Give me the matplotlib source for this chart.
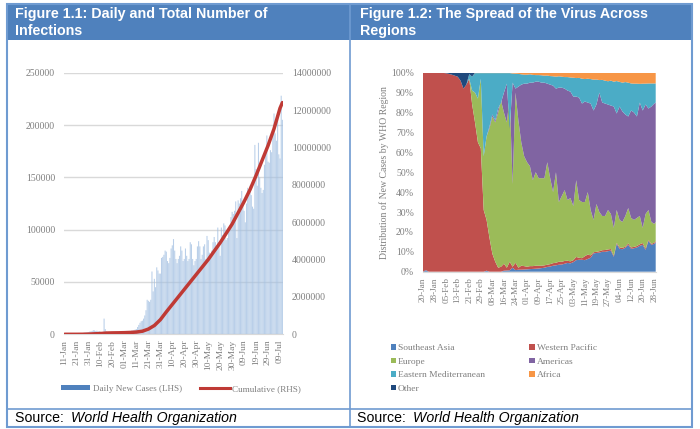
import matplotlib
matplotlib.use("Agg")
import matplotlib.pyplot as plt
import numpy as np
from matplotlib.patches import Rectangle, Patch
from matplotlib.lines import Line2D

# ---------- Figure 1.1 data ----------
daily_jan = [0,0,0,0,0,0,0,0,0,0, 100,200,300,500,700,800,1400,1700,1800,2000,2100]
daily_feb = [2600,2800,3200,3900,3700,3200,3400,2700,3000,2500,2000,1800,15000,5000,2600,2000,1900,1700,500,
             900,900,600,800,600,900,800,1000,1200,1800]
daily_mar = [1800,2000,2200,2000,2400,2800,3500,3600,4000,4500,5000,7000,9000,11000,12500,13000,15000,18000,23000,
             33000,32000,31000,33000,60000,41000,53000,45000,64000,61000,58000,58000]
daily_apr = [73000,74000,76000,80000,79000,70000,68000,73000,82000,85000,91000,80000,72000,68000,72000,75000,84000,
             80000,70000,72000,82000,75000,70000,72000,88000,86000,72000,66000,70000,72000]
daily_may = [84000,89000,84000,72000,76000,84000,86000,72000,94000,90000,78000,75000,80000,88000,93000,88000,84000,
             102000,88000,75000,102000,95000,106000,104000,90000,92000,98000,104000,112000,117000,115000]
daily_jun = [118000,127000,92000,128000,125000,130000,137000,128000,118000,107000,125000,140000,135000,142000,133000,
             122000,120000,181000,158000,142000,183000,150000,140000,135000,138000,162000,178000,190000,165000,164000]
daily_jul = [176000,174000,195000,211000,192000,185000,212000,172000,168000,228000,205000]
daily_new_cases = daily_jan + daily_feb + daily_mar + daily_apr + daily_may + daily_jun + daily_jul

cumulative_day = [0,5,10,15,20,25,30,35,40,45,50,55,60,65,70,75,80,85,90,95,100,105,110,115,120,125,130,135,140,
                  145,150,155,160,165,170,175,180,182]
cumulative_val = [0,100,300,2500,10000,25000,42000,67000,76000,80000,88000,100000,120000,165000,280000,470000,
                  780000,1200000,1600000,2000000,2400000,2800000,3200000,3600000,4000000,4450000,4900000,5400000,
                  5900000,6500000,7100000,7750000,8500000,9300000,10100000,11000000,12100000,12400000]
left_xlabels = ['11-Jan','21-Jan','31-Jan','10-Feb','20-Feb','01-Mar','11-Mar','21-Mar','31-Mar','10-Apr','20-Apr',
                '30-Apr','10-May','20-May','30-May','09-Jun','19-Jun','29-Jun','09-Jul']

# ---------- Figure 1.2 data: upper edge of each stacked band, every 2 days (last step 1 day) ----------
share_day = list(range(0, 161, 2)) + [161]
early_top = [99.9,99.9,99.9,99.9,99.9,99.9,99.9,99.9,99.7,99.4,99,98.5,98,96,92,94]
top_se_asia = [0,0.8,0,0,0,0,0,0,0,0, 0,0,0,0,0,0,0,0,0,0, 0,0,0.5,0,0,0,0,0,0.5,0.6,
               0.7,2,0.8,1,1,1.1,1.2,1.3,1.4,1.5, 1.6,1.8,2,2.4,2.6,3,3.2,3.5,3.6,4,
               4.4,4.2,4.8,5.8,6,6,5.8,6.4,7,9.2, 9.4,9.6,10,10,10.3,10.6,7.5,14,11.5,11.3,
               12,13.5,11.5,11.8,12.2,13,13.5,11,15.5,13.5, 14,14.8]
top_w_pacific = early_top + [97,84,75,65, 62,31,26,17,9,5,2,2.5,4,2,
                 5,2.5,4.5,2,3,2.8,2.5,2.8,2.8,3, 3,3,3.2,3.5,3.8,4.3,4.5,5,5,5.4,
                 5.5,5.2,5.8,7.4,7,6.8,7.8,8.6,8.2,9.8, 10,10.3,10.8,10.9,11.2,11.4,8,14.5,12.2,12,
                 12.6,14.2,12.2,12.5,12.9,13.8,14.4,11.6,16,14, 14.6,15.4]
top_europe = early_top + [97,91,90,87, 97,58,68,72,78,75,80,86,80,75,
                 88,44,90,76,65,58,55,53,46,50, 47,47,47,55,47,40,50,35,38,41,
                 36,37,33,46,36,35,35,40,31,26, 34,30,28,28,31,29,22,31,26,25,
                 28,32,27,26,27,28,22,29,31,25, 24,25]
top_americas = early_top + [97,91,90,87, 97,58,68,73,79,76,82,85,90,94.5,
                 72,95,92,93,94,94.5,94.5,95,95,95.5, 95.5,95,95,94.5,94,93.5,92,92.5,92.5,92,
                 91,90.5,88,88,87.5,84.5,85.5,85,84.5,81, 84,90,85,84.5,84,83.5,83,79.5,83,80.5,
                 79,78,81,80,78,85,81,84,82,83, 84.5,85]
top_e_med = early_top + [99.3,98,99.8,99.8, 99.8,99.8,99.8,99.8,99.8,99.8,99.8,99.8,99.8,99.8,
                 99.8,99.6,99.5,99.4,99.2,99,99,99.2,98.9,98.8, 98.8,98.7,98.5,98.6,98.3,98.2,98,98.2,98,97.8,
                 97.8,97.6,97.5,97.3,97.4,97,96.8,97,96.8,96.5, 96.6,96.3,96.4,96,95.7,96,95.5,95.8,95.4,95,
                 95.3,95,94.6,94.5,94.5,94.4,94.5,94.5,94.6,94.6, 94.6,94.6]
top_africa = early_top + [99.3,98,100,100] + [100] * 62
top_other = [100] * 82
right_xlabels = ['20-Jan','28-Jan','05-Feb','13-Feb','21-Feb','29-Feb','08-Mar','16-Mar','24-Mar','01-Apr','09-Apr',
                 '17-Apr','25-Apr','03-May','11-May','19-May','27-May','04-Jun','12-Jun','20-Jun','28-Jun']
region_names = ['Southeast Asia','Western Pacific','Europe','Americas','Eastern Mediterranean','Africa','Other']

W, H = 700, 429
SERIF = 'Liberation Serif'
SANS = 'Liberation Sans'
GREY = '#7f7f7f'
BORDER = '#6f9bd1'
fig = plt.figure(figsize=(W/100, H/100), dpi=100, facecolor='white')

def px_axes(x0, y0, x1, y1, **kw):
    return fig.add_axes([x0/W, 1-y1/H, (x1-x0)/W, (y1-y0)/H], **kw)

# ---------- frame ----------
bg = fig.add_axes([0, 0, 1, 1])
bg.set_xlim(0, W); bg.set_ylim(H, 0); bg.axis('off')
bg.add_patch(Rectangle((7, 4), 685, 36, fc='#4f81bd', ec='none'))
bg.add_patch(Rectangle((7, 4), 685, 423, fc='none', ec=BORDER, lw=1.5))
bg.plot([350, 350], [4, 427], color=BORDER, lw=1.2)
bg.plot([7, 692], [409, 409], color=BORDER, lw=1.2)
for x, lines in [(15, ['Figure 1.1: Daily and Total Number of', 'Infections']),
                 (360, ['Figure 1.2: The Spread of the Virus Across', 'Regions'])]:
    for y, s in zip([14, 31], lines):
        bg.text(x, y, s, color='white', family=SANS, weight='bold', fontsize=10.3, va='center', ha='left')
for x in (15, 357):
    t = bg.text(x, 418, 'Source: ', family=SANS, fontsize=10.2, va='center', ha='left', color='black')
    bb = t.get_window_extent(fig.canvas.get_renderer())
    bg.text(x + bb.width + 3, 418, 'World Health Organization', family=SANS, style='italic', fontsize=10.2,
            va='center', ha='left', color='black')

# ---------- Figure 1.1 ----------
ax = px_axes(64, 72.7, 283, 334.3)
ax.patch.set_alpha(0)
x_days = np.arange(len(daily_new_cases))
ax.yaxis.grid(True, color='#d9d9d9', lw=1)
ax.set_axisbelow(True)
bars = ax.bar(x_days, daily_new_cases, width=0.9, color='#a3c0e2', alpha=0.75, lw=0)
for b in bars:
    b.set_snap(False)
ax.set_xlim(-0.5, len(daily_new_cases) - 0.5)
ax.set_ylim(0, 250000)
ax.set_yticks(range(0, 250001, 50000))
ax.set_xticks(np.arange(0, 181, 10))
ax.set_xticklabels(left_xlabels, rotation=90)
ax.tick_params(length=0, labelsize=6.8, labelcolor=GREY, pad=4)
ax.tick_params(axis='y', pad=6.5, labelsize=7)
for s in ax.spines.values():
    s.set_visible(False)
ax.spines['bottom'].set_visible(True); ax.spines['bottom'].set_color('#d9d9d9')
for lab in ax.get_xticklabels() + ax.get_yticklabels():
    lab.set_family(SERIF)

ax2 = ax.twinx()
ax2.plot(cumulative_day, cumulative_val, color='#bf3a35', lw=2.5, solid_capstyle='round', zorder=5)
ax2.set_ylim(0, 14000000)
ax2.set_yticks(range(0, 14000001, 2000000))
ax2.ticklabel_format(style='plain', axis='y', useOffset=False)
ax2.tick_params(length=0, labelsize=7, labelcolor=GREY, pad=6.5)
for s in ax2.spines.values():
    s.set_visible(False)
for lab in ax2.get_yticklabels():
    lab.set_family(SERIF)
fig.legend(handles=[Patch(fc='#4f81bd', ec='none'), Line2D([], [], color='#bf3a35', lw=2.2)],
           labels=['Daily New Cases (LHS)', 'Cumulative (RHS)'], ncol=2, frameon=False,
           loc='center', bbox_to_anchor=(181/W, 1-389/H),
           prop={'family': SERIF, 'size': 6.6}, labelcolor=GREY, handlelength=3.2, handleheight=0.4,
           columnspacing=2.0, handletextpad=0.3)

# ---------- Figure 1.2 ----------
ax3 = px_axes(423, 72.7, 655.7, 271.7)
tops = np.array([top_se_asia, top_w_pacific, top_europe, top_americas, top_e_med, top_africa, top_other])
shares = np.diff(np.vstack([np.zeros(tops.shape[1]), tops]), axis=0)
colors = ['#4f81bd', '#c0504d', '#9bbb59', '#8064a2', '#4bacc6', '#f79646', '#1f497d']
ax3.stackplot(share_day, shares, colors=colors, lw=0, antialiased=True)
ax3.set_xlim(0, 161)
ax3.set_ylim(0, 100)
ax3.set_yticks(range(0, 101, 10))
ax3.set_yticklabels([f'{v}%' for v in range(0, 101, 10)])
ax3.set_xticks(np.arange(0, 161, 8))
ax3.set_xticklabels(right_xlabels, rotation=90)
ax3.tick_params(length=0, labelsize=6.6, labelcolor=GREY, pad=4)
ax3.tick_params(axis='y', pad=6.5, labelsize=7)
for s in ax3.spines.values():
    s.set_visible(False)
ax3.spines['bottom'].set_visible(True); ax3.spines['bottom'].set_color('#d9d9d9')
for lab in ax3.get_xticklabels() + ax3.get_yticklabels():
    lab.set_family(SERIF)
ax3.set_ylabel('Distribution of New Cases by WHO Region', family=SERIF, fontsize=7, color=GREY, labelpad=1.8)

order = [0, 2, 4, 6, 1, 3, 5]
fig.legend(handles=[Patch(fc=colors[i], ec='none') for i in order],
           labels=[region_names[i] for i in order], ncol=2, frameon=False,
           loc='upper left', bbox_to_anchor=(382/W, 1-335.5/H),
           prop={'family': SERIF, 'size': 6.8}, labelcolor=GREY, handlelength=0.55, handleheight=0.55,
           columnspacing=4.75, handletextpad=0.2, labelspacing=0.57)

fig.savefig('out.png', dpi=100)
